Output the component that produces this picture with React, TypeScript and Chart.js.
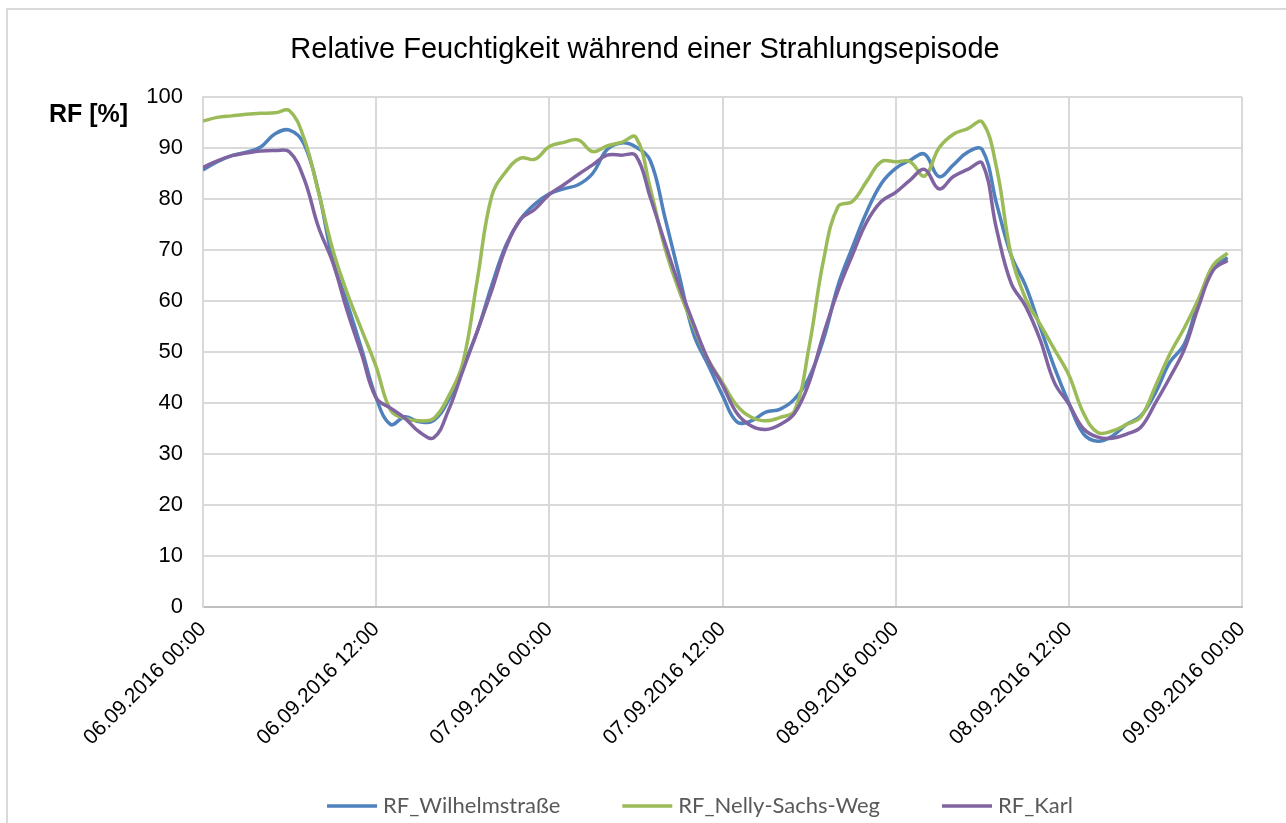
import React, { useEffect, useRef } from 'react';
import { Chart, registerables } from 'chart.js';

Chart.register(...registerables);

const TITLE = 'Relative Feuchtigkeit während einer Strahlungsepisode';
const Y_TITLE = 'RF [%]';

const X_TICK_LABELS = [
  '06.09.2016 00:00',
  '06.09.2016 12:00',
  '07.09.2016 00:00',
  '07.09.2016 12:00',
  '08.09.2016 00:00',
  '08.09.2016 12:00',
  '09.09.2016 00:00',
];

const SERIES_NAMES = ['RF_Wilhelmstraße', 'RF_Nelly-Sachs-Weg', 'RF_Karl'];
const SERIES_COLORS = ['#4F81BD', '#9BBB59', '#8064A2'];

// hours since 06.09.2016 00:00
const HOURS = [
  0, 1, 2, 3, 4, 5, 6, 7, 8, 9, 10, 11, 12, 13, 14, 15, 16, 17, 18, 19, 20, 21, 22, 23,
  24, 25, 26, 27, 28, 29, 30, 31, 32, 33, 34, 35, 36, 37, 38, 39, 40, 41, 42, 43, 44, 45, 46, 47,
  48, 49, 50, 51, 52, 53, 54, 55, 56, 57, 58, 59, 60, 61, 62, 63, 64, 65, 66, 67, 68, 69, 70, 71,
];

const RF_WILHELMSTRASSE = [
  85.7, 87.3, 88.5, 89.2, 90.2, 92.8, 93.5, 90.8, 81.5, 68, 59.5, 50.5,
  41, 35.8, 37.3, 36.3, 36.6, 40.5, 47, 54, 63, 71, 76, 79,
  81, 82, 82.8, 85, 89.7, 91, 90.2, 87.5, 76.5, 65, 53.5, 47.5,
  41.5, 36.3, 36.5, 38.2, 38.8, 40.8, 45, 52.5, 63, 70.5, 77.5, 83,
  86, 87.6, 88.8, 84.4, 86.7, 89.2, 89.7, 79, 69, 63, 55, 47,
  40, 34, 32.5, 33.5, 35.8, 37.5, 42, 48, 51.5, 60, 66.5, 68.5,
];

const RF_NELLY_SACHS_WEG = [
  95.3, 96.0, 96.3, 96.6, 96.8, 96.9, 97.3, 91.9, 81.4, 70, 61.5, 54.3,
  47.1, 38.6, 37.0, 36.5, 37.0, 41.2, 47.8, 64, 80.5, 85.4, 88.0, 87.8,
  90.3, 91.1, 91.6, 89.3, 90.4, 91.1, 92.1, 82, 70.5, 62, 55, 48.5,
  44, 39.5, 37.2, 36.5, 37.2, 38.5, 51, 68, 78.5, 79.5, 83.5, 87.3,
  87.3, 87.3, 84.5, 90, 92.7, 93.8, 95.1, 86, 69, 60.5, 55.5, 50.5,
  45.5, 38.1, 34.2, 34.5, 35.8, 37.3, 43.3, 49.6, 54.7, 60.5, 67, 69.4,
];

const RF_KARL = [
  86.2, 87.5, 88.5, 89.0, 89.4, 89.5, 89.2, 84, 74.5, 67.5, 58, 49.5,
  41, 39, 37, 34.3, 33.2, 38.5, 46.3, 54, 62, 70.5, 76, 78,
  80.9, 82.8, 84.8, 86.7, 88.6, 88.6, 88.5, 80.3, 71.5, 63, 55.5, 48.5,
  43.5, 38, 35.5, 34.8, 35.8, 38, 44, 53.5, 62, 69, 75.5, 79.5,
  81.3, 83.7, 85.8, 82, 84.4, 85.8, 87, 74, 63.5, 59, 52.5, 44,
  39.8, 35, 33.3, 33.1, 33.9, 35.3, 40, 45, 50.5, 59, 66, 68,
];

const SERIES_VALUES = [RF_WILHELMSTRASSE, RF_NELLY_SACHS_WEG, RF_KARL];

const FONT = '"Liberation Sans", Arial, sans-serif';
const LEGEND_FONT = 'Lato, "Open Sans", sans-serif';

const decorPlugin = {
  id: 'decor',
  beforeDraw(chart: any) {
    const ctx = chart.ctx;
    ctx.save();
    ctx.fillStyle = '#ffffff';
    ctx.fillRect(0, 0, chart.width, chart.height);
    ctx.strokeStyle = '#d9d9d9';
    ctx.lineWidth = 2;
    ctx.strokeRect(7, 9, chart.width + 20, chart.height + 20);
    ctx.restore();
  },
  afterDraw(chart: any) {
    const ctx = chart.ctx;
    ctx.save();
    // title
    ctx.fillStyle = '#000000';
    ctx.font = `29px ${FONT}`;
    ctx.textAlign = 'center';
    ctx.textBaseline = 'alphabetic';
    ctx.fillText(TITLE, 645, 58);
    // y axis title
    ctx.font = `bold 25px ${FONT}`;
    ctx.textAlign = 'left';
    ctx.fillText(Y_TITLE, 49, 122);
    // legend
    ctx.font = `22px ${LEGEND_FONT}`;
    ctx.textBaseline = 'middle';
    const lineLen = 50;
    const gap = 6;
    const itemGap = 62;
    const ds = chart.data.datasets;
    const widths = ds.map((d: any) => ctx.measureText(d.label).width);
    let total = 0;
    widths.forEach((w: number, i: number) => {
      total += lineLen + gap + w + (i > 0 ? itemGap : 0);
    });
    let x = 700 - total / 2;
    const y = 806;
    ds.forEach((d: any, i: number) => {
      ctx.strokeStyle = d.borderColor;
      ctx.lineWidth = 3.5;
      ctx.beginPath();
      ctx.moveTo(x, y);
      ctx.lineTo(x + lineLen, y);
      ctx.stroke();
      ctx.fillStyle = '#595959';
      ctx.fillText(d.label, x + lineLen + gap, y);
      x += lineLen + gap + widths[i] + itemGap;
    });
    ctx.restore();
  },
};

export default function App() {
  const canvasRef = useRef<HTMLCanvasElement | null>(null);

  useEffect(() => {
    if (!canvasRef.current) return;
    const datasets = SERIES_NAMES.map((name, i) => ({
      label: name,
      data: HOURS.map((h, j) => ({ x: h, y: SERIES_VALUES[i][j] })),
      borderColor: SERIES_COLORS[i],
      backgroundColor: SERIES_COLORS[i],
      borderWidth: 3.5,
      pointRadius: 0,
      tension: 0.4,
      fill: false,
      order: 2 - i,
    }));

    const chart = new Chart(canvasRef.current, {
      type: 'line',
      data: { datasets },
      options: {
        animation: false,
        responsive: false,
        devicePixelRatio: 1,
        layout: { padding: { left: 143, top: 97, right: 44, bottom: 0 } },
        plugins: {
          legend: { display: false },
          title: { display: false },
          tooltip: { enabled: false },
        },
        scales: {
          x: {
            type: 'linear',
            min: 0,
            max: 72,
            afterFit: (s: any) => {
              s.height = 216;
            },
            afterBuildTicks: (s: any) => {
              s.ticks = X_TICK_LABELS.map((_, i) => ({ value: i * 12 }));
            },
            ticks: {
              autoSkip: false,
              maxRotation: 45,
              minRotation: 45,
              padding: 10,
              color: '#000000',
              font: { family: FONT, size: 21 },
              callback: (v: any) => X_TICK_LABELS[Math.round(Number(v) / 12)] ?? '',
            },
            grid: { color: '#d9d9d9', lineWidth: 2, drawTicks: false },
            border: { color: '#bfbfbf', width: 2 },
          },
          y: {
            min: 0,
            max: 100,
            afterFit: (s: any) => {
              s.width = 60;
            },
            ticks: {
              stepSize: 10,
              padding: 20,
              color: '#000000',
              font: { family: FONT, size: 22 },
            },
            grid: { color: '#d9d9d9', lineWidth: 2, drawTicks: false },
            border: { color: '#d9d9d9', width: 2 },
          },
        },
      } as any,
      plugins: [decorPlugin],
    });
    return () => chart.destroy();
  }, []);

  return (
    <div style={{ position: 'absolute', left: 0, top: 0, width: 1286, height: 823 }}>
      <canvas ref={canvasRef} width={1286} height={823} style={{ width: 1286, height: 823, display: 'block' }} />
    </div>
  );
}
